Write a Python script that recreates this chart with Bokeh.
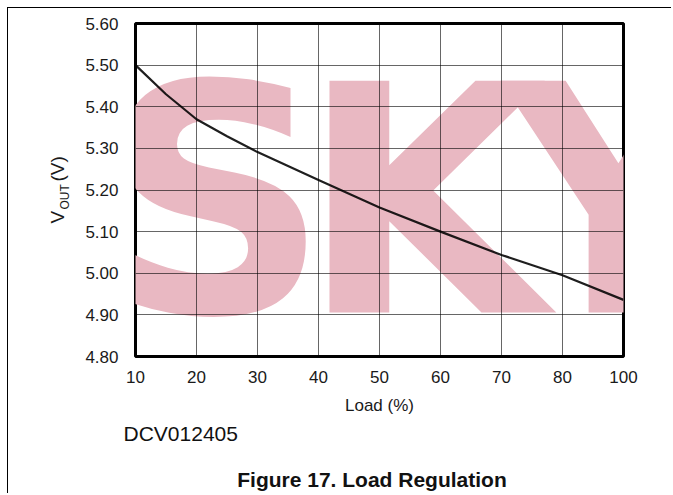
import math
from bokeh.plotting import figure
from bokeh.models import Range1d, FixedTicker, Label, NumeralTickFormatter
from bokeh.embed import file_html
from bokeh.resources import INLINE

# ---------------- data ----------------
load_pct = [10, 15, 20, 25, 30, 40, 50, 60, 70, 80, 100]
vout = [5.500, 5.430, 5.370, 5.329, 5.291, 5.224, 5.158, 5.100, 5.044, 4.995, 4.936]
x_tick_labels = ["10", "20", "30", "40", "50", "60", "70", "80", "100"]
y_ticks = [4.80, 4.90, 5.00, 5.10, 5.20, 5.30, 5.40, 5.50, 5.60]
x_title = "Load (%)"
y_title_main, y_title_sub, y_title_unit = "V", "OUT", "(V)"
doc_code = "DCV012405"
caption = "Figure 17. Load Regulation"
watermark = ["S", "K", "Y"]


# the original axis jumps from 80 straight to 100 in one grid step
def axis_pos(v):
    return v if v <= 80 else 80 + (v - 80) / 2


x_pos = [axis_pos(v) for v in load_pct]
x_tick_pos = [axis_pos(int(t)) for t in x_tick_labels]

# ---------------- layout ----------------
W, H = 664, 486
FL, FT, FW, FH = 127, 15, 488, 333
PAGE_L, PAGE_T = 8, 8  # 7px css margin + 1px border
X0, X1 = x_tick_pos[0], x_tick_pos[-1]
Y0, Y1 = y_ticks[0], y_ticks[-1]


def px2x(px):
    return X0 + (px - (PAGE_L + FL)) * (X1 - X0) / FW


def px2y(py):
    return Y1 - (py - (PAGE_T + FT)) * (Y1 - Y0) / FH


p = figure(width=W, height=H, output_backend="svg", toolbar_location=None,
           x_range=Range1d(X0, X1), y_range=Range1d(Y0, Y1),
           min_border_left=FL, min_border_top=FT,
           min_border_right=W - FL - FW, min_border_bottom=H - FT - FH)
p.styles = {"border-top": "1px solid black", "border-left": "1px solid black",
            "margin-left": "7px", "margin-top": "7px"}
p.background_fill_color = "white"
p.border_fill_color = "white"
p.outline_line_color = "black"
p.outline_line_width = 3

FONT = "Liberation Sans"
TXT = "#1a1a1a"
for ax in (p.xaxis[0], p.yaxis[0]):
    ax.axis_line_color = None
    ax.major_tick_line_color = None
    ax.minor_tick_line_color = None
    ax.major_label_text_font = FONT
    ax.major_label_text_font_size = "17px"
    ax.major_label_text_color = TXT

p.xaxis.ticker = FixedTicker(ticks=x_tick_pos)
p.xaxis.major_label_overrides = {int(pos): lab for pos, lab in zip(x_tick_pos, x_tick_labels)}
p.xaxis.major_label_standoff = 8
p.xaxis.axis_label = x_title
p.xaxis.axis_label_text_font = FONT
p.xaxis.axis_label_text_font_size = "17px"
p.xaxis.axis_label_text_font_style = "normal"
p.xaxis.axis_label_text_color = TXT
p.xaxis.axis_label_standoff = 10

p.yaxis.ticker = FixedTicker(ticks=y_ticks)
p.yaxis.formatter = NumeralTickFormatter(format="0.00")
p.yaxis.major_label_standoff = 11

for g in (p.xgrid[0], p.ygrid[0]):
    g.grid_line_color = "black"
    g.grid_line_alpha = 0.6
    g.grid_line_width = 1
p.xgrid.ticker = FixedTicker(ticks=x_tick_pos)
p.ygrid.ticker = FixedTicker(ticks=y_ticks)

# watermark (behind the grid)
wm_centers = [214, 423, 618]
for ch, cx in zip(watermark, wm_centers):
    p.add_layout(Label(x=px2x(cx), y=px2y(202), text=ch, text_font="DejaVu Sans",
                       text_font_style="bold", text_font_size="318px",
                       text_color="#e9b8c2", text_align="center",
                       text_baseline="middle", level="image"))

# curve
p.line(x_pos, vout, line_color="black", line_alpha=0.88, line_width=2.2,
       line_join="round")

# rotated y-axis title with subscript (side panel -> not clipped)
ang = math.pi / 2
p.add_layout(Label(x=px2x(56.5), y=px2y(223), text=y_title_main, angle=ang,
                   text_font=FONT, text_font_size="19px", text_color=TXT,
                   text_align="left", text_baseline="middle"), "left")
p.add_layout(Label(x=px2x(64.5), y=px2y(209), text=y_title_sub, angle=ang,
                   text_font=FONT, text_font_size="12px", text_color=TXT,
                   text_align="left", text_baseline="middle"), "left")
p.add_layout(Label(x=px2x(56.5), y=px2y(181), text=y_title_unit, angle=ang,
                   text_font=FONT, text_font_size="19px", text_color=TXT,
                   text_align="left", text_baseline="middle"), "left")

# document code and caption
p.add_layout(Label(x=px2x(123), y=px2y(432.5), text=doc_code, text_font=FONT,
                   text_font_size="21px", text_color="#111111",
                   text_align="left", text_baseline="middle"), "below")
p.add_layout(Label(x=px2x(371.5), y=px2y(479), text=caption, text_font=FONT,
                   text_font_size="21px", text_font_style="bold",
                   text_color="#111111", text_align="center",
                   text_baseline="middle"), "below")

open("out.html", "w").write(file_html(p, INLINE))
